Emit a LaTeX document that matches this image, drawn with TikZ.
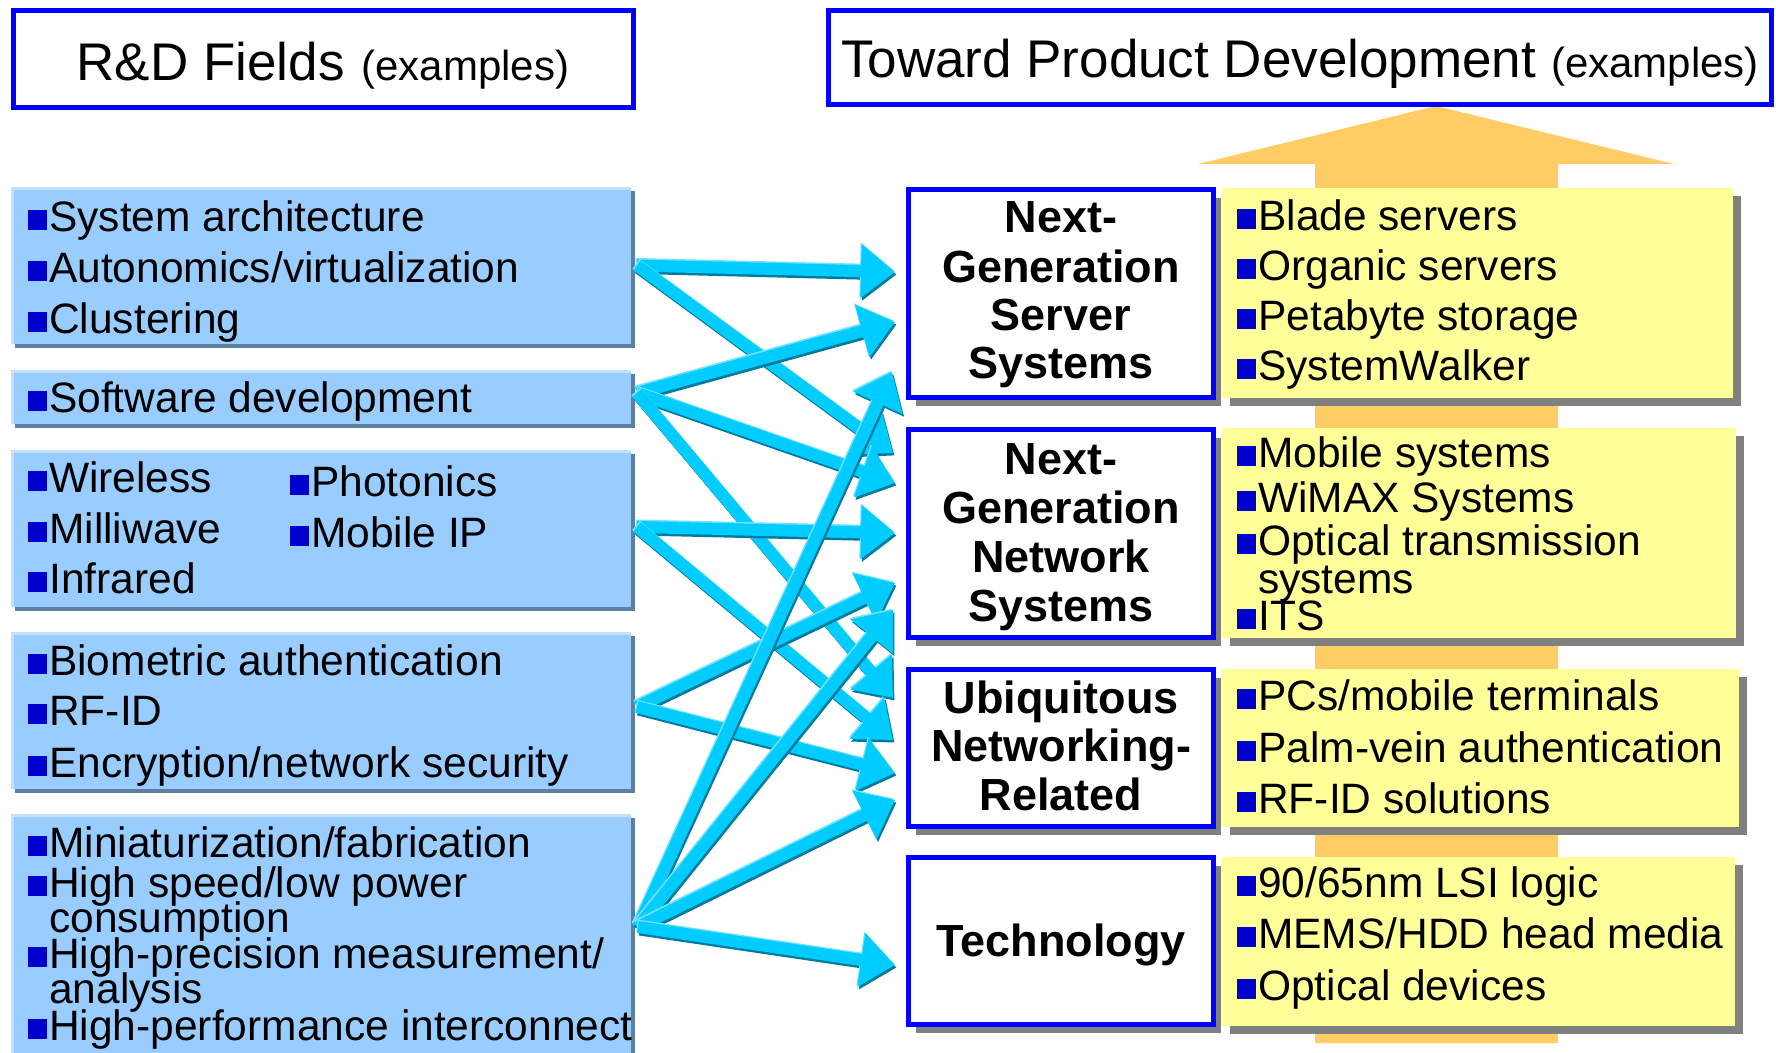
\documentclass[tikz,border=0pt]{standalone}
\usepackage{fontspec}
\setmainfont{Liberation Sans}
\usetikzlibrary{arrows.meta,calc,shadows}

\definecolor{frameblue}{HTML}{0000FF}
\definecolor{bulletblue}{HTML}{0000CC}
\definecolor{fieldblue}{HTML}{99CCFF}
\definecolor{fieldedge}{HTML}{5E7EA2}
\definecolor{fieldhi}{HTML}{C2E0FF}
\definecolor{noteyellow}{HTML}{FFFF99}
\definecolor{shadowgray}{HTML}{808080}
\definecolor{flowcyan}{HTML}{00CCFF}
\definecolor{flowdark}{HTML}{007B9E}
\definecolor{flowlight}{HTML}{70E2FF}
\definecolor{riseorange}{HTML}{FFCC66}

% square bullet in front of list items
\newcommand\sq{{\color{bulletblue}\rule[1.5pt]{19pt}{20pt}}\hspace{2pt}}
% light rim along the top and left edge of a field box
\newcommand\rim[1]{\draw[fieldhi, line width=3pt] ($(#1.south west)+(1.5,0)$) -- ($(#1.north west)+(1.5,1.5)$) -- ($(#1.north east)+(0,1.5)$);}
% bevelled cyan arrow
\newcommand\flow[2]{%
  \draw[flowpen, flowdark, transform canvas={shift={(1.5pt,-2.5pt)}}] (#1) -- (#2);
  \draw[flowpen, flowlight, transform canvas={shift={(-1pt,1.5pt)}}] (#1) -- (#2);
  \draw[flowpen, flowcyan] (#1) -- (#2);}

\tikzset{
  field/.style={fill=fieldblue, inner sep=0pt, outer sep=0pt, anchor=north west,
    minimum width=620pt,
    drop shadow={shadow xshift=4pt, shadow yshift=-4pt, fill=fieldedge, opacity=1}},
  titlebox/.style={draw=frameblue, line width=5pt, fill=white, inner sep=0pt, outer sep=0pt, anchor=north west},
  area/.style={draw=frameblue, line width=5pt, fill=white, inner sep=0pt, outer sep=0pt, anchor=north west,
    minimum width=305pt,
    drop shadow={shadow xshift=7pt, shadow yshift=-8pt, fill=shadowgray, opacity=1}},
  note/.style={fill=noteyellow, inner sep=0pt, outer sep=0pt, anchor=north west,
    drop shadow={shadow xshift=8pt, shadow yshift=-8pt, fill=shadowgray, opacity=1}},
  itm/.style={anchor=base west, inner sep=0pt, font=\fontsize{42.5}{50}\selectfont},
  head/.style={anchor=base, inner sep=0pt, font=\fontsize{45}{50}\selectfont\bfseries},
  flowpen/.style={line width=12pt, -{Triangle[length=34pt,width=52pt]}},
}

\begin{document}
\begin{tikzpicture}[x=1pt,y=-1pt]
\useasboundingbox (0,0) rectangle (1776,1052);
\clip (0,0) rectangle (1776,1052);

% rising orange arrow behind the product column
\fill[riseorange] (1315,1043) -- (1315,164) -- (1198,164) -- (1436,106)
  -- (1674,164) -- (1558,164) -- (1558,1043) -- cycle;

% headers
\node[titlebox, minimum width=620pt, minimum height=97pt] (rdbox) at (13.5,10.5) {};
\node[anchor=base, inner sep=0pt] (rdtxt) at (323,80)
  {{\fontsize{53}{60}\selectfont R\&D Fields}\hspace{17pt}{\fontsize{42}{50}\selectfont (examples)}};
\node[titlebox, minimum width=943pt, minimum height=94pt] (pdbox) at (828.5,10.5) {};
\node[anchor=base, inner sep=0pt] (pdtxt) at (1300,77)
  {{\fontsize{53}{60}\selectfont Toward Product Development}\hspace{15pt}{\fontsize{42}{50}\selectfont (examples)}};

% research fields
\node[field, minimum height=157pt] (s1) at (11,187) {};
\node[field, minimum height=54pt]  (s2) at (11,370) {};
\node[field, minimum height=157pt] (s3) at (11,450) {};
\node[field, minimum height=157pt] (s4) at (11,632) {};
\node[field, minimum height=270pt] (s5) at (11,814) {};
\rim{s1}\rim{s2}\rim{s3}\rim{s4}\rim{s5}

\node[itm] (f1a) at (28,231) {\sq System architecture};
\node[itm] (f1b) at (28,282) {\sq Autonomics/virtualization};
\node[itm] (f1c) at (28,333) {\sq Clustering};
\node[itm] (f2a) at (28,412) {\sq Software development};
\node[itm] (f3a) at (28,492) {\sq Wireless};
\node[itm] (f3b) at (28,543) {\sq Milliwave};
\node[itm] (f3c) at (28,593) {\sq Infrared};
\node[itm] (f3d) at (290,496) {\sq Photonics};
\node[itm] (f3e) at (290,547) {\sq Mobile IP};
\node[itm] (f4a) at (28,675) {\sq Biometric authentication};
\node[itm] (f4b) at (28,725) {\sq RF-ID};
\node[itm] (f4c) at (28,777) {\sq Encryption/network security};
\node[itm] (f5a) at (28,857) {\sq Miniaturization/fabrication};
\node[itm] (f5b) at (28,897) {\sq High speed/low power};
\node[itm] (f5c) at (49,932) {consumption};
\node[itm] (f5d) at (28,968) {\sq High-precision measurement/};
\node[itm] (f5e) at (49,1003) {analysis};
\node[itm] (f5f) at (28,1040) {\sq High-performance interconnect};

% product examples
\node[note, minimum width=511pt, minimum height=210pt] (y1) at (1222,188) {};
\node[note, minimum width=514pt, minimum height=210pt] (y2) at (1222,428) {};
\node[note, minimum width=517pt, minimum height=158pt] (y3) at (1222,669) {};
\node[note, minimum width=513pt, minimum height=169pt] (y4) at (1222,857) {};

\node[itm] (p1a) at (1237,230) {\sq Blade servers};
\node[itm] (p1b) at (1237,280) {\sq Organic servers};
\node[itm] (p1c) at (1237,330) {\sq Petabyte storage};
\node[itm] (p1d) at (1237,380) {\sq SystemWalker};
\node[itm] (p2a) at (1237,467) {\sq Mobile systems};
\node[itm] (p2b) at (1237,512) {\sq WiMAX Systems};
\node[itm] (p2c) at (1237,555) {\sq Optical transmission};
\node[itm] (p2d) at (1258,593) {systems};
\node[itm] (p2e) at (1237,630) {\sq ITS};
\node[itm] (p3a) at (1237,710) {\sq PCs/mobile terminals};
\node[itm] (p3b) at (1237,762) {\sq Palm-vein authentication};
\node[itm] (p3c) at (1237,813) {\sq RF-ID solutions};
\node[itm] (p4a) at (1237,897) {\sq 90/65nm LSI logic};
\node[itm] (p4b) at (1237,948) {\sq MEMS/HDD head media};
\node[itm] (p4c) at (1237,1000) {\sq Optical devices};

% development areas
\node[area, minimum height=208pt] (srv) at (908.5,189.5) {};
\node[area, minimum height=208pt] (net) at (908.5,429.5) {};
\node[area, minimum height=157pt] (ubq) at (908.5,669.5) {};
\node[area, minimum height=167pt] (tec) at (908.5,857.5) {};

\node[head] (h1a) at (1061,232) {Next-};
\node[head] (h1b) at (1061,282) {Generation};
\node[head] (h1c) at (1061,330) {Server};
\node[head] (h1d) at (1061,378) {Systems};
\node[head] (h2a) at (1061,474) {Next-};
\node[head] (h2b) at (1061,523) {Generation};
\node[head] (h2c) at (1061,572) {Network};
\node[head] (h2d) at (1061,621) {Systems};
\node[head] (h3a) at (1061,713) {Ubiquitous};
\node[head] (h3b) at (1061,761) {Networking-};
\node[head] (h3c) at (1061,810) {Related};
\node[head] (h4a) at (1061,956) {Technology};

% arrow ends
\coordinate (o1) at ($(s1.east)+(6,0)$);
\coordinate (o2) at ($(s2.east)+(6,-4)$);
\coordinate (o3) at ($(s3.east)+(6,-1.5)$);
\coordinate (o4) at ($(s4.east)+(6,-3.5)$);
\coordinate (o5) at ($(s5.east)+(7,-22)$);

\coordinate (tS1) at ($(srv.west)+(-13.5,-21.5)$);
\coordinate (tS2) at ($(srv.west)+(-13.5,28.5)$);
\coordinate (tS3) at ($(srv.west)+(-16.5,78.5)$);
\coordinate (tN1) at ($(net.west)+(-15.5,-80.5)$);
\coordinate (tN2) at ($(net.west)+(-13.5,-50.5)$);
\coordinate (tN3) at ($(net.west)+(-13.5,-0.5)$);
\coordinate (tN4) at ($(net.west)+(-13.5,49.5)$);
\coordinate (tN5) at ($(net.west)+(-15.5,76.5)$);
\coordinate (tU1) at ($(ubq.west)+(-15.5,-50)$);
\coordinate (tU2) at ($(ubq.west)+(-15.5,-8)$);
\coordinate (tU3) at ($(ubq.west)+(-13.5,25)$);
\coordinate (tU4) at ($(ubq.west)+(-13.5,52)$);
\coordinate (tT1) at ($(tec.west)+(-13.5,24)$);

% links from fields to development areas
\flow{o1}{tS1}
\flow{o1}{tN1}
\flow{o2}{tS2}
\flow{o2}{tN2}
\flow{o2}{tU1}
\flow{o3}{tN3}
\flow{o3}{tU2}
\flow{o4}{tN4}
\flow{o4}{tU3}
\flow{o5}{tS3}
\flow{o5}{tN5}
\flow{o5}{tU4}
\flow{o5}{tT1}
\end{tikzpicture}
\end{document}
